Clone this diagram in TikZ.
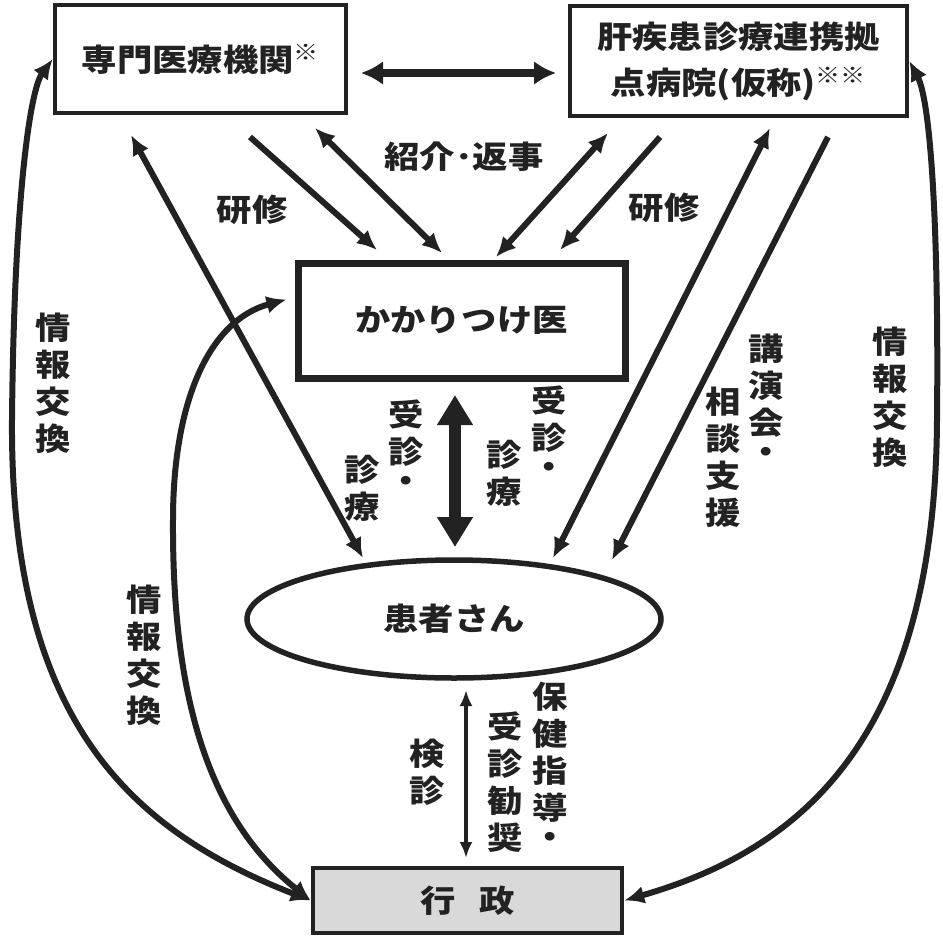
\documentclass[tikz,border=0pt]{standalone}
\usepackage{fontspec}
\setmainfont{Noto Sans CJK JP}[FakeStretch=1.14]
\usetikzlibrary{arrows.meta,shapes.geometric,calc}
\definecolor{ink}{HTML}{222222}
\definecolor{gfill}{HTML}{D9D9D9}
\newcommand{\myfont}{\fontsize{31}{37}\selectfont\bfseries}
\newcommand{\kanfont}{\fontsize{31}{46}\selectfont\bfseries}
\newcommand{\kome}{\raisebox{0.35em}{\fontsize{22}{22}\selectfont ※}}
\begin{document}
\begin{tikzpicture}[x=1pt,y=-1pt,
  box/.style={draw=ink,line width=4.5pt,inner sep=0pt,align=center,font=\myfont,text=ink},
  lab/.style={inner sep=0pt,align=center,font=\myfont,text=ink},
  conn/.style={draw=ink,line width=6pt},
  >={Latex[length=20pt,width=18pt]},
]
\fill[white] (0,0) rectangle (943,935);
\useasboundingbox (0,0) rectangle (943,935);

% boxes
\node[box,minimum width=291pt,minimum height=108pt] (senmon) at (200.5,59) {専門医療機関\kome};
\node[box,minimum width=337pt,minimum height=110pt,font=\kanfont] (kan) at (738.5,61) {肝疾患診療連携拠\\点病院(仮称)\kome\kome};
\node[box,line width=7pt,minimum width=327pt,minimum height=115pt] (kakari) at (461.5,320.5) {かかりつけ医};
\node[box,ellipse,line width=5.5pt,minimum width=414pt,minimum height=118pt] (kanja) at (454,619) {患者さん};
\node[box,fill=gfill,minimum width=309pt,minimum height=65pt] (gyosei) at (467.5,900.5) {行\hspace{24pt}政};

% labels
\node[lab] (t1) at (252,210) {研修};
\node[lab] (t2) at (664,208) {研修};
\node[lab] (t3) at (464,157) {紹介･返事};
\node[lab] (v1) at (53,383) {情\\報\\交\\換};
\node[lab] (v2) at (890,397) {情\\報\\交\\換};
\node[lab] (v3) at (144,655) {情\\報\\交\\換};
\node[lab] (v4) at (406,446) {受\\診\\[-8pt]・};
\node[lab] (v5) at (362,488) {診\\療};
\node[lab] (v6) at (549,432) {受\\診\\[-8pt]・};
\node[lab] (v7) at (504,473) {診\\療};
\node[lab] (v8) at (766,399) {講\\演\\会\\[-8pt]・};
\node[lab] (v9) at (723,457) {相\\談\\支\\援};
\node[lab] (v10) at (427,772) {検\\診};
\node[lab] (v11) at (550,765) {保\\健\\指\\導\\[-8pt]・};
\node[lab] (v12) at (505,782) {受\\診\\勧\\奨};

% connector end points
\coordinate (a1s) at (131,135); \coordinate (a1e) at (363,558);
\coordinate (a2s) at (250,137); \coordinate (a2e) at (377,250);
\coordinate (a3s) at (315,128); \coordinate (a3e) at (442,253);
\coordinate (a4s) at (608,133); \coordinate (a4e) at (496,257);
\coordinate (a5s) at (660,137); \coordinate (a5e) at (560,250);
\coordinate (a6s) at (770,128); \coordinate (a6e) at (553,558);
\coordinate (a7s) at (828,137); \coordinate (a7e) at (612,560);
\coordinate (h1) at (361,73); \coordinate (h2) at (556,73);
\coordinate (b1) at (455,395); \coordinate (b2) at (455,547);
\coordinate (c1) at (466,690); \coordinate (c2) at (466,858);

\draw[conn,<->] (a1s) -- (a1e);
\draw[conn,->] (a2s) -- (a2e);
\draw[conn,<->] (a3s) -- (a3e);
\draw[conn,<->] (a4s) -- (a4e);
\draw[conn,->] (a5s) -- (a5e);
\draw[conn,<->] (a6s) -- (a6e);
\draw[conn,->] (a7s) -- (a7e);
\draw[draw=ink,line width=7.5pt,{Latex[length=22pt,width=24pt]}-{Latex[length=22pt,width=24pt]}] (h1) -- (h2);
\draw[draw=ink,line width=12pt,{Triangle[length=30pt,width=34pt]}-{Triangle[length=30pt,width=34pt]}] (b1) -- (b2);
\draw[draw=ink,line width=4pt,{Latex[length=16pt,width=13pt]}-{Latex[length=16pt,width=13pt]}] (c1) -- (c2);

% curves
\draw[conn,<->] (gyosei.west) .. controls (130,830) and (10,720) .. (12,420)
   .. controls (14,200) and (30,90) .. (senmon.west);
\draw[conn,<->] (gyosei.west) .. controls (210,820) and (172,700) .. (173,520)
   .. controls (173,400) and (210,320) .. ($(kakari.west)+(-8,-21)$);
\draw[conn,<->] (gyosei.east) .. controls (800,850) and (935,740) .. (937,420)
   .. controls (939,220) and (930,100) .. (kan.east);
\end{tikzpicture}
\end{document}
